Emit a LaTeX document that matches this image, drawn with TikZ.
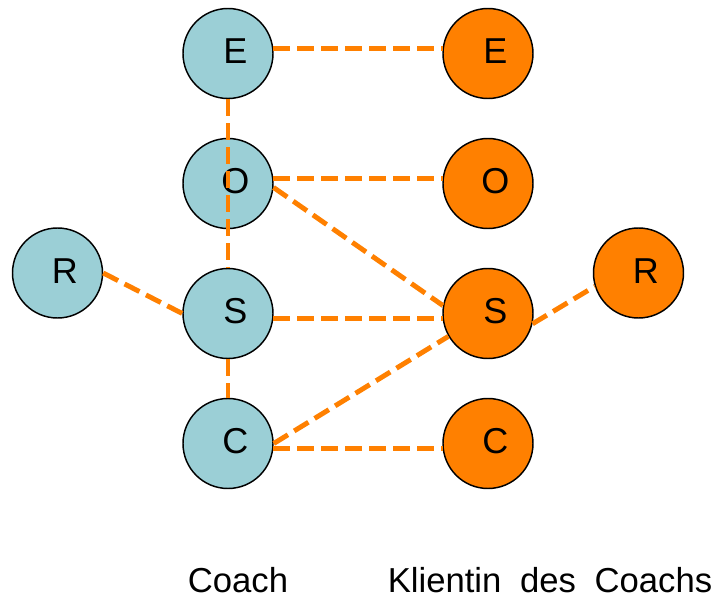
\documentclass[tikz,border=0pt]{standalone}
\usepackage{fontspec}
\setmainfont{Liberation Sans}
\usepackage{tikz}
\definecolor{coachblue}{RGB}{155,207,214}
\definecolor{klientorange}{RGB}{255,128,0}
\newcommand{\coachcapfont}{\fontsize{26}{30}\selectfont\spaceskip 14pt\relax}

\begin{document}
\begin{tikzpicture}[x=0.75pt,y=-0.75pt,
		letter/.style={inner sep=0pt,xshift=5.5pt,yshift=1.5pt,font=\fontsize{27}{32}\selectfont},
		person/.style={circle,draw=black,line width=1.1pt,minimum size=67.5pt,inner sep=0pt,label={[letter]center:#1}},
		coach/.style={person=#1,fill=coachblue},
		klient/.style={person=#1,fill=klientorange},
		link/.style={draw=klientorange,line width=3.7pt,dash pattern=on 12.5pt off 5.5pt},
		caption/.style={anchor=base,text depth=0pt,font=\coachcapfont}]
			\useasboundingbox (0,0) rectangle (715,596);
			
			\node[coach=E] (lE) at (228,53.5) {};
			\node[coach=O] (lO) at (228,183.5) {};
			\node[coach=S] (lS) at (228,313.5) {};
			\node[coach=C] (lC) at (228,443.5) {};
			\node[coach=R] (lR) at (57.5,273) {};
			
			\node[klient=E] (rE) at (488,53.5) {};
			\node[klient=O] (rO) at (488,183.5) {};
			\node[klient=S] (rS) at (488,313.5) {};
			\node[klient=C] (rC) at (488,443.5) {};
			\node[klient=R] (rR) at (638.5,273) {};
			
			\draw[link] (lE.6) -- (rE.174);
			\draw[link] (lO.6) -- (rO.174);
			\draw[link] (lS.-6) -- (rS.186);
			\draw[link] (lC.-6) -- (rC.186);
			\draw[link] (lO.-5) -- (rS.170);
			\draw[link] (lC.east) -- (rS.210);
			\draw[link] (lR.east) -- (lS.west);
			\draw[link] (rS.-13) -- (rR.197);
			\draw[link] (lE.south) -- (lO.center) -- (lS.north);
			\draw[link] (lS.south) -- (lC.north);
			
			\node[caption] (coachlabel) at (238,592.5) {Coach};
			\node[caption] (klientlabel) at (550,592.5) {Klientin des Coachs};
		\end{tikzpicture}
\end{document}
